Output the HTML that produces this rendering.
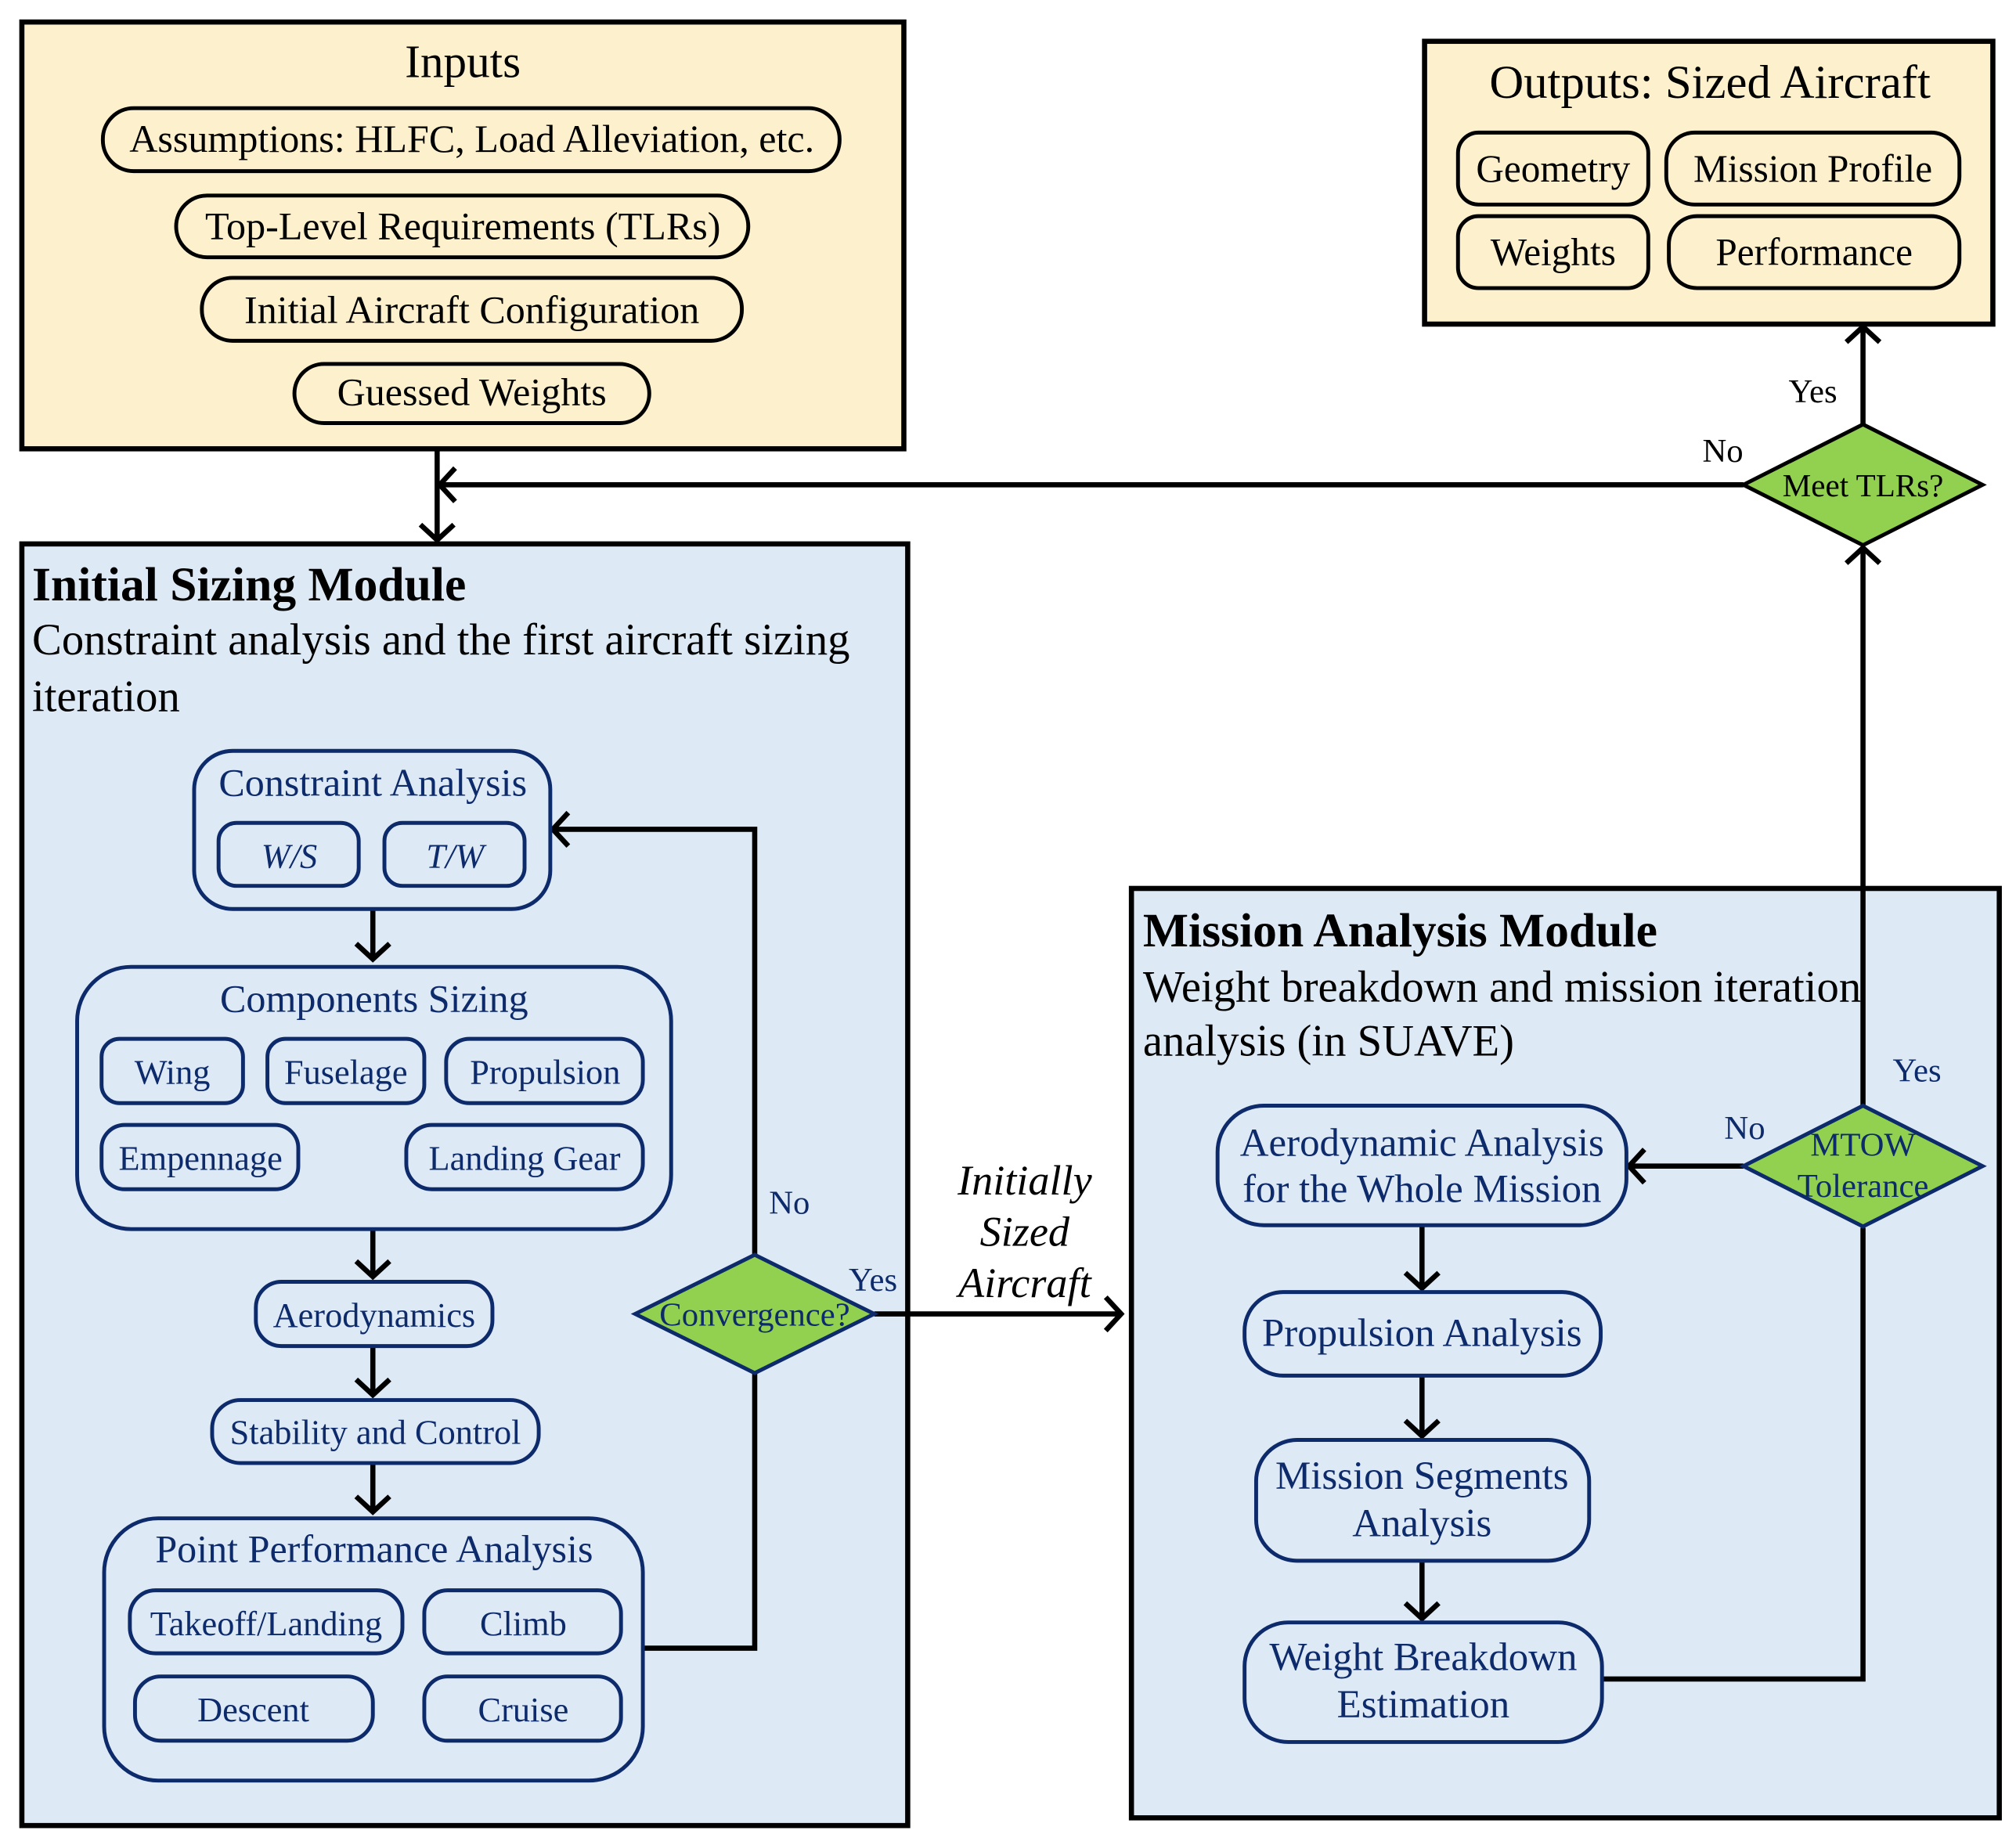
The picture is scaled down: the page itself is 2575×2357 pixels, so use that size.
<!DOCTYPE html>
<html><head><meta charset="utf-8"><style>
html,body{margin:0;padding:0;background:#fff}
svg{display:block}
text{font-family:"Liberation Serif",serif}
</style></head><body>
<svg width="2575" height="2357" viewBox="0 0 1568 1435" xmlns="http://www.w3.org/2000/svg">
<defs>
<marker id="a" markerWidth="10" markerHeight="10" refX="8" refY="5" orient="auto" markerUnits="userSpaceOnUse" viewBox="0 0 10 10" overflow="visible">
<path d="M-4,-8 L8,5 L-4,18" fill="none" stroke="#000" stroke-width="4"/>
</marker>
</defs>
<rect width="1568" height="1435" fill="#fff"/>
<rect x="17" y="17" width="686" height="332" fill="#fdf0cc" stroke="#000" stroke-width="4"/>
<text x="360" y="60" font-size="36" text-anchor="middle">Inputs</text>
<g fill="none" stroke="#000" stroke-width="3">
<rect x="80" y="84" width="573" height="49" rx="24"/>
<rect x="137" y="152" width="445" height="48" rx="24"/>
<rect x="157" y="216" width="420" height="49" rx="24"/>
<rect x="229" y="283" width="276" height="46" rx="23"/>
</g>
<g font-size="30.5" text-anchor="middle">
<text x="367" y="118">Assumptions: HLFC, Load Alleviation, etc.</text>
<text x="360" y="186">Top-Level Requirements (TLRs)</text>
<text x="367" y="251">Initial Aircraft Configuration</text>
<text x="367" y="315">Guessed Weights</text>
</g>
<rect x="1108" y="32" width="442" height="220" fill="#fdf0cc" stroke="#000" stroke-width="4"/>
<text x="1330" y="76" font-size="37" text-anchor="middle">Outputs: Sized Aircraft</text>
<g fill="none" stroke="#000" stroke-width="3">
<rect x="1134" y="103" width="148" height="56" rx="16"/>
<rect x="1296" y="103" width="228" height="56" rx="22"/>
<rect x="1134" y="168" width="148" height="56" rx="16"/>
<rect x="1298" y="168" width="226" height="56" rx="22"/>
</g>
<g font-size="30" text-anchor="middle">
<text x="1208" y="141">Geometry</text>
<text x="1410" y="141">Mission Profile</text>
<text x="1208" y="206">Weights</text>
<text x="1411" y="206">Performance</text>
</g>
<rect x="17" y="423" width="689" height="997" fill="#dde9f5" stroke="#000" stroke-width="4"/>
<rect x="880" y="691" width="675" height="723" fill="#dde9f5" stroke="#000" stroke-width="4"/>
<text x="25" y="467" font-size="37.5" font-weight="bold">Initial Sizing Module</text>
<text x="25" y="509" font-size="34.5">Constraint analysis and the first aircraft sizing</text>
<text x="25" y="553" font-size="34.5">iteration</text>
<text x="889" y="736" font-size="37.5" font-weight="bold">Mission Analysis Module</text>
<text x="889" y="779" font-size="34.5">Weight breakdown and mission iteration</text>
<text x="889" y="821" font-size="34.5">analysis (in SUAVE)</text>
<g fill="none" stroke="#000" stroke-width="4">
<line x1="340" y1="349" x2="340" y2="420" marker-end="url(#a)"/>
<line x1="1356" y1="377" x2="342" y2="377" marker-end="url(#a)"/>
<line x1="1449" y1="330" x2="1449" y2="254" marker-end="url(#a)"/>
<line x1="1449" y1="860" x2="1449" y2="426" marker-end="url(#a)"/>
<line x1="290" y1="707" x2="290" y2="746" marker-end="url(#a)"/>
<line x1="290" y1="956" x2="290" y2="993" marker-end="url(#a)"/>
<line x1="290" y1="1047" x2="290" y2="1085" marker-end="url(#a)"/>
<line x1="290" y1="1138" x2="290" y2="1176" marker-end="url(#a)"/>
<polyline points="500,1282 587,1282 587,1068"/>
<polyline points="587,976 587,645 430,645" marker-end="url(#a)"/>
<line x1="680" y1="1022" x2="872" y2="1022" marker-end="url(#a)"/>
<line x1="1106" y1="953" x2="1106" y2="1002" marker-end="url(#a)"/>
<line x1="1106" y1="1070" x2="1106" y2="1117" marker-end="url(#a)"/>
<line x1="1106" y1="1214" x2="1106" y2="1259" marker-end="url(#a)"/>
<polyline points="1246,1306 1449,1306 1449,955"/>
<line x1="1356" y1="907" x2="1267" y2="907" marker-end="url(#a)"/>
</g>
<polygon points="1356,377 1449,330 1542,377 1449,424" fill="#92d050" stroke="#000" stroke-width="3"/>
<text x="1449" y="386" font-size="25" text-anchor="middle">Meet TLRs?</text>
<text x="1410" y="313" font-size="26" text-anchor="middle">Yes</text>
<text x="1340" y="359" font-size="26" text-anchor="middle">No</text>
<polygon points="494,1022 587,976 680,1022 587,1068" fill="#92d050" stroke="#0d2a6b" stroke-width="3"/>
<polygon points="1356,907 1449,860 1542,907 1449,954" fill="#92d050" stroke="#0d2a6b" stroke-width="3"/>
<g fill="#0d2a6b" font-size="26" text-anchor="middle">
<text x="587" y="1031">Convergence?</text>
<text x="614" y="944">No</text>
<text x="679" y="1004">Yes</text>
<text x="1449" y="899">MTOW</text>
<text x="1449" y="931">Tolerance</text>
<text x="1357" y="886">No</text>
<text x="1491" y="841">Yes</text>
</g>
<g font-size="33" font-style="italic" text-anchor="middle">
<text x="797" y="929">Initially</text>
<text x="797" y="969">Sized</text>
<text x="797" y="1009">Aircraft</text>
</g>
<g fill="none" stroke="#0d2a6b" stroke-width="3">
<rect x="151" y="584" width="277" height="123" rx="30"/>
<rect x="170" y="640" width="109" height="49" rx="14"/>
<rect x="299" y="640" width="109" height="49" rx="14"/>
<rect x="60" y="752" width="462" height="204" rx="42"/>
<rect x="79" y="808" width="110" height="50" rx="14"/>
<rect x="208" y="808" width="122" height="50" rx="14"/>
<rect x="347" y="808" width="153" height="50" rx="18"/>
<rect x="79" y="875" width="153" height="50" rx="18"/>
<rect x="316" y="875" width="184" height="50" rx="20"/>
<rect x="199" y="997" width="184" height="50" rx="20"/>
<rect x="165" y="1089" width="254" height="49" rx="22"/>
<rect x="81" y="1181" width="419" height="204" rx="42"/>
<rect x="101" y="1237" width="212" height="49" rx="20"/>
<rect x="330" y="1237" width="153" height="49" rx="18"/>
<rect x="105" y="1304" width="185" height="50" rx="20"/>
<rect x="330" y="1304" width="153" height="50" rx="18"/>
<rect x="947" y="860" width="318" height="93" rx="36"/>
<rect x="968" y="1005" width="277" height="65" rx="30"/>
<rect x="977" y="1120" width="259" height="94" rx="32"/>
<rect x="968" y="1262" width="278" height="93" rx="34"/>
</g>
<g fill="#0d2a6b" text-anchor="middle" font-size="27">
<text x="290" y="619" font-size="30.5">Constraint Analysis</text>
<text x="225" y="675" font-style="italic">W/S</text>
<text x="354" y="675" font-style="italic">T/W</text>
<text x="291" y="787" font-size="30.5">Components Sizing</text>
<text x="134" y="843">Wing</text>
<text x="269" y="843">Fuselage</text>
<text x="424" y="843">Propulsion</text>
<text x="156" y="910">Empennage</text>
<text x="408" y="910">Landing Gear</text>
<text x="291" y="1032">Aerodynamics</text>
<text x="292" y="1123">Stability and Control</text>
<text x="291" y="1215" font-size="30.5">Point Performance Analysis</text>
<text x="207" y="1272">Takeoff/Landing</text>
<text x="407" y="1272">Climb</text>
<text x="197" y="1339">Descent</text>
<text x="407" y="1339">Cruise</text>
<g font-size="31">
<text x="1106" y="899">Aerodynamic Analysis</text>
<text x="1106" y="935">for the Whole Mission</text>
<text x="1106" y="1047">Propulsion Analysis</text>
<text x="1106" y="1158">Mission Segments</text>
<text x="1106" y="1195">Analysis</text>
<text x="1107" y="1299">Weight Breakdown</text>
<text x="1107" y="1336">Estimation</text>
</g>
</g>
</svg>
</body></html>
